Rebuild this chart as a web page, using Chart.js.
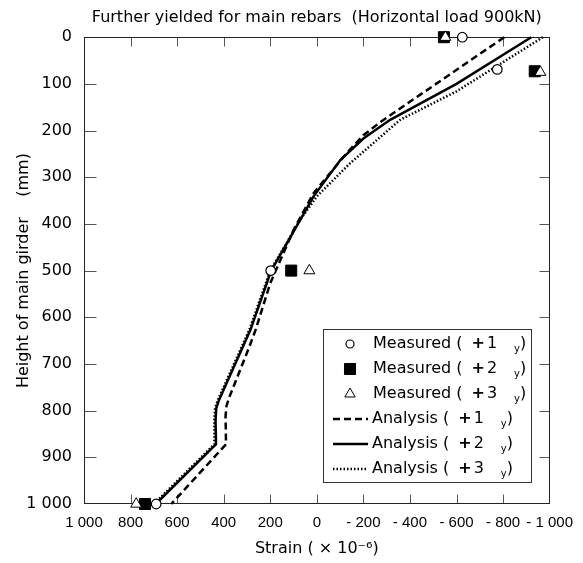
<!DOCTYPE html>
<html><head><meta charset="utf-8">
<script src="https://cdn.jsdelivr.net/npm/chart.js@4.4.1/dist/chart.umd.min.js"></script>
<style>html,body{margin:0;padding:0;background:#fff}</style>
</head><body>
<canvas id="c" width="583" height="563"></canvas>
<script>
// ---------- data ----------
const chartTitle = 'Further yielded for main rebars  (Horizontal load 900kN)';
const xAxisTitle = 'Strain ( \u00d7 10\u207b\u2076)';
const yAxisTitle = 'Height of main girder    (mm)';

const xTickValues = [1000, 800, 600, 400, 200, 0, -200, -400, -600, -800, -1000];
const xTickLabels = ['1 000', '800', '600', '400', '200', '0', '- 200', '- 400', '- 600', '- 800', '- 1 000'];
const yTickValues = [0, 100, 200, 300, 400, 500, 600, 700, 800, 900, 1000];
const yTickLabels = ['0', '100', '200', '300', '400', '500', '600', '700', '800', '900', '1 000'];

const seriesNames = ['Measured', 'Measured', 'Measured', 'Analysis', 'Analysis', 'Analysis'];
const seriesMultiples = ['1', '2', '3', '1', '2', '3'];

// measured (strain x10^-6, height mm)
const meas1Strain = [-625, -775, 198, 690];
const meas1Height = [0, 69, 500, 1000];
const meas2Strain = [-546, -936, 110, 738];
const meas2Height = [0, 73, 500, 1000];
const meas3Strain = [-552, -960, 32, 776];
const meas3Height = [0, 75, 500, 1000];

// analysis
const ana1Strain = [-805, -272, -200, -129, 14, 100, 200, 263, 292, 375, 388, 392, 390, 625];
const ana1Height = [0, 182, 210, 248, 334, 413, 527, 627, 666, 770, 790, 812, 872, 1000];
const ana2Strain = [-921, -600, -315, -200, -101, 14, 128, 196, 285, 420, 432, 435, 433, 692];
const ana2Height = [0, 100, 177, 217, 263, 341, 441, 500, 627, 777, 795, 820, 872, 1000];
const ana3Strain = [-971, -600, -358, -143, 0, 71, 130, 200, 290, 425, 437, 440, 440, 700];
const ana3Height = [0, 116, 177, 270, 341, 391, 441, 500, 627, 777, 795, 820, 872, 1000];

const pts = (xs, ys) => xs.map((v, i) => ({x: v, y: ys[i]}));

const FONT = 'DejaVu Sans';

const framePlugin = {
  id: 'frame',
  beforeDatasetsDraw(chart) {
    const {ctx, chartArea: ca, scales} = chart;
    const L = Math.round(ca.left) + 0.5, R = Math.round(ca.right) - 0.5;
    const T = Math.round(ca.top) + 0.5, B = Math.round(ca.bottom) - 0.5;
    ctx.save();
    ctx.strokeStyle = '#555';
    ctx.lineWidth = 1;
    scales.x.ticks.forEach(t => {
      if (t.value === -1000 || t.value === 1000) return;
      const p = Math.round(scales.x.getPixelForValue(t.value)) + 0.5;
      ctx.beginPath();
      ctx.moveTo(p, B); ctx.lineTo(p, B - 9);
      ctx.moveTo(p, T); ctx.lineTo(p, T + 9);
      ctx.stroke();
    });
    scales.y.ticks.forEach(t => {
      if (t.value === 0 || t.value === 1000) return;
      const p = Math.round(scales.y.getPixelForValue(t.value)) + 0.5;
      ctx.beginPath();
      ctx.moveTo(L, p); ctx.lineTo(L + 12, p);
      ctx.moveTo(R, p); ctx.lineTo(R - 10, p);
      ctx.stroke();
    });
    ctx.strokeStyle = '#222';
    ctx.strokeRect(L, T, R - L, B - T);
    ctx.restore();
  }
};

const legendPlugin = {
  id: 'customLegend',
  afterDatasetsDraw(chart) {
    const ctx = chart.ctx;
    const bx = 323.5, by = 329.5, bw = 208, bh = 153;
    ctx.save();
    ctx.fillStyle = '#fff';
    ctx.fillRect(bx, by, bw, bh);
    ctx.strokeStyle = '#333';
    ctx.lineWidth = 1;
    ctx.strokeRect(bx, by, bw, bh);
    const order = [2, 1, 0, 3, 4, 5];
    chart.data.datasets.forEach((ds, i) => {
      const rowY = 344 + 25 * i;
      ctx.fillStyle = '#000';
      if (ds.showLine) {
        ctx.save();
        ctx.strokeStyle = ds.borderColor;
        ctx.lineWidth = ds.borderWidth;
        ctx.setLineDash(ds.borderDash || []);
        ctx.beginPath();
        ctx.moveTo(333, rowY); ctx.lineTo(368, rowY);
        ctx.stroke();
        ctx.restore();
      } else {
        ctx.save();
        ctx.strokeStyle = ds.borderColor;
        ctx.fillStyle = ds.backgroundColor;
        ctx.lineWidth = ds.borderWidth;
        Chart.helpers.drawPoint(ctx, {pointStyle: ds.pointStyle, radius: ds.legendRadius, borderWidth: ds.borderWidth, rotation: 0}, 350, rowY);
        ctx.restore();
      }
      let x = ds.showLine ? 372 : 373;
      ctx.fillStyle = '#000';
      ctx.textBaseline = 'middle';
      ctx.textAlign = 'left';
      ctx.font = '16px "' + FONT + '"';
      const head = seriesNames[i] + ' (';
      ctx.fillText(head, x, rowY);
      x += ctx.measureText(head).width + 9;
      ctx.font = 'bold 16px "' + FONT + '"';
      ctx.fillText('+', x, rowY);
      x += ctx.measureText('+').width + 2;
      ctx.font = '16px "' + FONT + '"';
      ctx.fillText(seriesMultiples[i], x, rowY);
      x += ctx.measureText(seriesMultiples[i]).width + 17;
      ctx.font = '10px "' + FONT + '"';
      ctx.fillText('y', x, rowY + 5);
      x += ctx.measureText('y').width;
      ctx.font = '16px "' + FONT + '"';
      ctx.fillText(')', x, rowY);
    });
    ctx.restore();
  }
};

const lineDs = (label, xs, ys, dash, ord) => ({
  label, data: pts(xs, ys), showLine: true, pointRadius: 0, borderColor: '#000',
  backgroundColor: '#000', borderWidth: 2.5, borderDash: dash, tension: 0, fill: false, clip: false, order: ord
});

new Chart(document.getElementById('c'), {
  type: 'scatter',
  data: {
    datasets: [
      {label: 'Measured ( +1 y)', data: pts(meas1Strain, meas1Height), showLine: false, pointStyle: 'circle',
       pointRadius: 4.8, legendRadius: 4, backgroundColor: '#fff', borderColor: '#000', borderWidth: 1.2, clip: false, order: 2},
      {label: 'Measured ( +2 y)', data: pts(meas2Strain, meas2Height), showLine: false, pointStyle: 'rect',
       pointRadius: 7.8, legendRadius: 7.8, backgroundColor: '#000', borderColor: '#000', borderWidth: 1, clip: false, order: 1},
      {label: 'Measured ( +3 y)', data: pts(meas3Strain, meas3Height), showLine: false, pointStyle: 'triangle',
       pointRadius: 6.3, legendRadius: 6, backgroundColor: '#fff', borderColor: '#000', borderWidth: 1, clip: false, order: 0},
      lineDs('Analysis ( +1 y)', ana1Strain, ana1Height, [7, 4], 3),
      lineDs('Analysis ( +2 y)', ana2Strain, ana2Height, [], 4),
      lineDs('Analysis ( +3 y)', ana3Strain, ana3Height, [1.5, 2], 5)
    ]
  },
  options: {
    responsive: false,
    animation: false,
    events: [],
    layout: {padding: {left: 0, right: 33, top: 0, bottom: 0}},
    plugins: {
      legend: {display: false},
      tooltip: {enabled: false},
      title: {display: true, text: chartTitle, fullSize: false, color: '#000',
              font: {family: FONT, size: 16, weight: 'normal'}, padding: {top: 8, bottom: 10}}
    },
    scales: {
      x: {
        type: 'linear', reverse: true, min: -1000, max: 1000,
        afterBuildTicks: s => { s.ticks = xTickValues.map(v => ({value: v})); },
        afterFit: s => { s.height = 59; },
        ticks: {callback: v => xTickLabels[xTickValues.indexOf(v)], color: '#000', padding: 10,
                maxRotation: 0, autoSkip: false, font: {family: 'Liberation Sans', size: 15}},
        grid: {display: false, drawTicks: false},
        border: {display: false},
        title: {display: true, text: xAxisTitle, color: '#000', font: {family: FONT, size: 16},
                padding: {top: 0, bottom: 5}}
      },
      y: {
        type: 'linear', reverse: true, min: 0, max: 1000,
        afterBuildTicks: s => { s.ticks = yTickValues.map(v => ({value: v})); },
        afterFit: s => { s.width = 84; },
        ticks: {callback: v => yTickLabels[yTickValues.indexOf(v)], color: '#000', padding: 12,
                autoSkip: false, font: {family: FONT, size: 16}},
        grid: {display: false, drawTicks: false},
        border: {display: false},
        title: {display: true, text: yAxisTitle, color: '#000', font: {family: FONT, size: 16},
                padding: {top: 14, bottom: 0}}
      }
    }
  },
  plugins: [framePlugin, legendPlugin]
});
</script>
</body></html>
